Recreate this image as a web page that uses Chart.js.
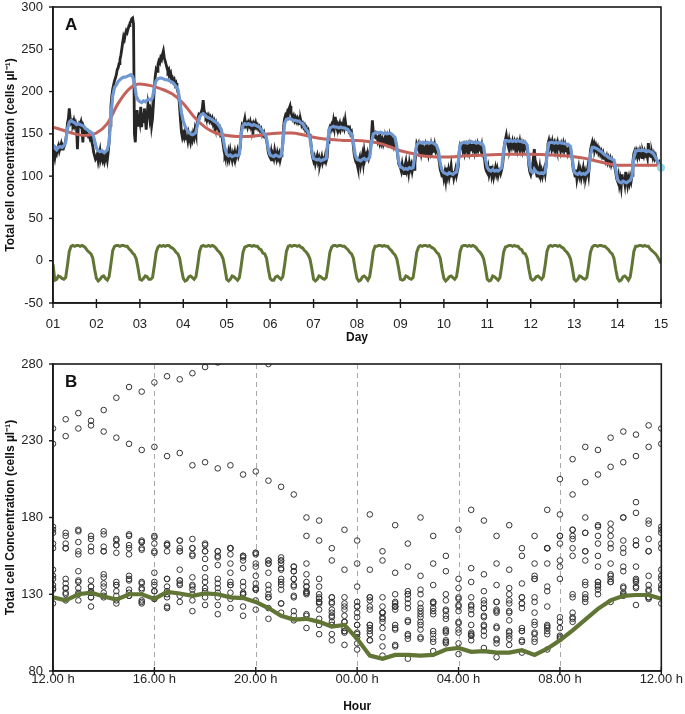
<!DOCTYPE html>
<html><head><meta charset="utf-8">
<script src="https://cdn.jsdelivr.net/npm/chart.js@4.4.1/dist/chart.umd.min.js"></script>
<style>
html,body{margin:0;padding:0;background:#fff;width:685px;height:714px;overflow:hidden;}
#wrapA{position:absolute;left:0;top:0;width:685px;height:345px;}
#wrapB{position:absolute;left:0;top:345px;width:685px;height:369px;}
canvas{display:block;}
</style></head><body>
<div id="wrapA"><canvas id="cA" width="685" height="345"></canvas></div>
<div id="wrapB"><canvas id="cB" width="685" height="369"></canvas></div>
<script>
// ---------- Panel A data ----------
const dayLabels = ['01','02','03','04','05','06','07','08','09','10','11','12','13','14','15'];
// total cell concentration, every 30 min from day 01 00:00 to day 15 00:00
const totalCells = [
135,128,122,130,127,133,136,130,134,138,132,136,134,137,142,150,163,168,180,168,163,165,162,166,160,163,158,132,158,162,160,164,158,140,158,155,153,149,150,147,148,144,146,140,135,128,124,120,
122,126,118,124,130,121,125,119,123,117,121,125,119,128,140,160,182,195,203,208,213,216,220,226,228,233,238,243,250,258,265,262,268,272,270,274,278,281,283,286,287,280,150,140,168,178,160,172,
165,182,158,175,163,180,168,155,172,185,178,168,175,160,168,185,205,218,226,224,232,236,234,240,238,244,248,240,236,232,228,224,226,220,222,214,216,212,214,208,210,204,200,195,180,165,152,146,
150,146,152,144,148,142,150,145,140,147,143,150,146,155,150,160,168,172,170,174,176,180,190,178,174,170,172,168,171,166,169,165,168,162,165,160,163,158,160,155,157,150,152,145,138,130,125,128,
125,120,128,122,130,124,119,126,122,128,121,125,130,124,128,135,152,160,158,163,168,160,162,158,163,160,164,158,161,157,162,159,163,158,160,156,158,154,156,152,150,152,147,148,143,135,128,124,
122,128,118,125,121,130,124,120,127,122,126,119,124,128,140,160,168,172,170,175,172,180,183,176,172,168,171,166,169,165,168,164,167,162,165,160,162,158,160,155,157,152,154,148,150,140,128,122,
118,122,115,120,124,117,121,114,119,123,116,120,118,124,118,122,140,155,158,155,160,157,165,158,170,160,156,161,158,162,156,160,157,163,158,166,158,155,160,154,156,150,152,145,135,125,120,116,
115,110,118,122,113,119,125,116,128,120,124,118,126,121,125,132,148,166,152,148,150,145,148,142,146,140,145,139,143,138,142,137,144,140,146,141,147,140,144,138,142,136,140,136,132,124,115,112,
110,106,114,108,103,112,117,107,111,104,115,109,113,106,112,108,115,128,138,135,138,130,134,127,133,126,131,128,135,129,133,126,132,128,136,130,134,128,136,130,133,128,124,116,108,104,100,106,
98,104,96,110,101,107,99,105,112,100,106,98,103,108,101,106,112,130,136,133,138,131,135,128,134,137,130,135,129,136,131,138,132,135,129,136,132,137,131,135,133,130,136,128,130,120,110,106,
104,110,102,107,112,101,106,99,105,110,103,108,101,106,110,104,108,114,125,138,143,148,140,136,142,134,139,135,141,136,140,133,138,132,139,135,141,134,138,131,137,133,138,135,131,125,112,105,
102,108,112,122,132,115,104,100,107,103,110,101,106,100,105,109,103,112,128,138,142,135,139,133,140,134,138,131,137,132,139,134,136,130,137,133,138,131,136,130,134,128,133,129,131,127,118,108,
105,100,108,97,104,110,101,106,98,103,109,100,105,99,104,110,102,115,130,136,140,134,138,132,136,131,134,128,131,126,129,124,127,121,125,119,123,117,121,116,120,114,118,113,116,110,104,97,
94,100,90,96,88,102,93,98,91,105,95,89,97,92,99,94,101,118,127,130,125,129,123,128,124,130,126,122,128,124,129,125,127,122,139,126,128,123,127,122,126,121,124,119,117,114,116,112,
110];
// smoothed concentration, hourly
const smoothedCells = [
137,133,131,134,135,134,136,140,156,164,166,164,163,161,162,161,160,159,156,155,153,152,150,142,
133,130,129,130,128,129,131,140,170,195,205,208,212,214,216,217,217,218,219,220,218,210,195,190,
188,187,189,188,190,191,190,193,205,213,215,216,216,215,214,214,213,212,211,209,206,203,190,175,
165,159,155,152,150,149,150,152,162,170,173,174,172,170,169,168,167,165,164,162,159,155,145,133,
126,124,125,123,124,125,124,126,150,160,162,161,162,161,160,161,160,159,158,155,152,150,145,132,
125,124,123,125,124,123,124,138,162,167,168,168,167,166,166,165,165,163,162,158,155,152,145,130,
121,120,119,120,118,119,120,121,145,157,158,159,158,158,157,158,157,157,156,155,152,150,140,125,
120,119,118,120,121,119,120,122,140,150,151,152,151,152,151,150,151,150,151,150,148,146,135,118,
111,110,108,109,108,110,109,110,125,137,139,140,139,140,139,140,139,140,139,138,136,130,115,107,
104,103,102,104,103,102,104,105,118,137,139,140,140,139,140,141,140,140,139,140,139,139,135,120,
110,107,106,108,106,107,106,108,110,130,142,142,141,142,141,142,141,142,141,141,140,140,137,118,
106,104,108,105,104,103,104,103,105,125,139,140,140,139,140,139,140,139,139,138,138,137,135,120,
105,103,102,104,102,103,102,104,106,125,134,134,133,132,130,129,127,125,124,122,121,120,119,108,
96,93,92,94,93,92,94,95,100,122,130,130,131,130,131,130,129,130,129,128,126,122,118,114,
112];
// long-term trend, every 6 h
const trendCells = [158,154,150,148,151,162,186,203,209,207,203,197,186,170,158,151,148,147,147,148,150,151,151,149,146,144,143,142,142,141,139,135,130,127,124,123,122.5,123,124,124.5,125,125.5,126,126,126,125.5,125,124,123,121,118,115,113,113,113,113,113];
// daily (circadian) component, hourly
const dailyComponent = [
-4,-23,-22,-18,-19,-21,-22,-20,-5,11,17,18,17,18,18,17,18,17,15,12,10,8,3,-10,
-21,-24,-22,-19,-18,-21,-23,-19,-4,12,17,18,18,17,18,18,17,17,14,12,9,7,2,-9,
-22,-23,-21,-18,-19,-22,-22,-20,-6,10,16,18,17,18,17,18,18,16,15,13,10,8,3,-10,
-21,-24,-23,-19,-18,-20,-22,-19,-5,11,17,18,17,17,18,17,18,17,15,12,10,7,2,-9,
-22,-24,-22,-18,-19,-21,-23,-20,-6,10,16,17,18,18,17,18,17,17,14,13,9,8,3,-10,
-21,-23,-23,-19,-18,-20,-22,-19,-5,11,17,18,17,18,18,17,18,16,15,12,10,7,2,-9,
-22,-24,-22,-18,-19,-21,-22,-20,-6,10,16,18,18,17,18,18,17,17,15,13,10,8,3,-10,
-21,-24,-23,-19,-18,-20,-23,-19,-5,11,17,17,18,18,17,18,17,17,14,12,9,7,2,-9,
-22,-23,-22,-18,-19,-21,-22,-20,-6,10,16,18,17,18,18,17,18,16,15,13,10,8,3,-10,
-21,-24,-22,-19,-18,-20,-22,-19,-5,11,17,18,18,17,18,17,18,17,15,12,10,7,2,-9,
-22,-24,-23,-18,-19,-21,-23,-20,-6,10,16,17,18,18,17,18,17,17,14,13,9,8,3,-10,
-21,-23,-22,-19,-18,-20,-22,-19,-5,11,17,18,17,18,18,17,18,16,15,12,10,7,2,-9,
-22,-24,-22,-18,-19,-21,-22,-20,-6,10,16,18,18,17,18,18,17,17,15,13,10,8,3,-10,
-21,-24,-23,-19,-18,-20,-23,-19,-5,11,17,17,18,18,17,18,17,17,14,12,10,8,5,1,
-3];
const endMarker = [110];

// ---------- Panel B data ----------
const hourLabels = ['12.00 h','16.00 h','20.00 h','00.00 h','04.00 h','08.00 h','12.00 h'];
// typical daily profile, every 30 min starting 12.00 h
const dailyProfile = [128,126,130,131,128.5,126.5,130,130,127,131.5,130.5,129,130.5,130,128,127.5,125,121,116,113.5,114,112,109,110,101,90,88,90.5,90.5,90,90.5,94,95,92.5,93,92,92,93.5,90.5,94.5,100,106.5,113.5,120.5,126,129,129.5,129.5,127];

// ---------- build ----------
const FONT = "'Liberation Sans', Arial, Helvetica, sans-serif";
const ptsA = (arr, perDay) => arr.map((v, i) => ({x: 1 + i / perDay, y: v}));

// fold the 30-min series into 24 h windows that start at 12.00 h
const foldPts = [];
for (let k = 0; k <= 14; k++) {
  const start = -24 + 48 * k; // index of 12.00 h (30-min steps)
  for (let j = 0; j <= 48; j++) {
    const idx = start + j;
    if (idx >= 0 && idx < totalCells.length) foldPts.push({x: j / 2, y: totalCells[idx]});
  }
}

const framePlugin = {
  id: 'frame',
  beforeDatasetsDraw(chart, args, opts) {
    const {ctx, chartArea: a, scales} = chart;
    if (opts.vgrid) {
      ctx.save();
      ctx.strokeStyle = '#a8a8a8'; ctx.lineWidth = 1; ctx.setLineDash([5, 4]);
      opts.vgrid.forEach(v => {
        const x = Math.round(scales.x.getPixelForValue(v)) + 0.5;
        ctx.beginPath(); ctx.moveTo(x, a.top); ctx.lineTo(x, a.bottom); ctx.stroke();
      });
      ctx.restore();
    }
  },
  afterDraw(chart, args, opts) {
    const {ctx, chartArea: a, scales} = chart;
    ctx.save();
    ctx.strokeStyle = '#1a1a1a'; ctx.lineWidth = 1.6;
    ctx.strokeRect(a.left, a.top, a.right - a.left, a.bottom - a.top);
    ctx.lineWidth = 1.4;
    scales.x.ticks.forEach(t => {
      const x = scales.x.getPixelForValue(t.value);
      ctx.beginPath(); ctx.moveTo(x, a.bottom - opts.xIn); ctx.lineTo(x, a.bottom + opts.xOut); ctx.stroke();
    });
    scales.y.ticks.forEach(t => {
      const y = scales.y.getPixelForValue(t.value);
      ctx.beginPath(); ctx.moveTo(a.left - 4, y); ctx.lineTo(a.left, y); ctx.stroke();
    });
    ctx.fillStyle = '#111';
    ctx.font = 'bold 17px ' + FONT;
    ctx.textBaseline = 'alphabetic';
    ctx.fillText(opts.letter, a.left + 12, a.top + 23);
    ctx.restore();
  }
};

const tickFont = {family: FONT, size: 13, lineHeight: 1};
const titleFont = {family: FONT, size: 12, weight: 'bold'};
function fitY(s) { s.width = 53; s.paddingTop = 0; s.paddingBottom = 0; }

new Chart(document.getElementById('cA'), {
  type: 'line',
  data: {
    datasets: [
      {data: endMarker.map(v => ({x: 15, y: v})), showLine: false, pointRadius: 4, pointBackgroundColor: '#93d6e8', pointBorderWidth: 0, clip: 8},
      {data: ptsA(smoothedCells, 24), borderColor: '#7098d2', borderWidth: 3.2, pointRadius: 0, tension: 0},
      {data: ptsA(trendCells, 4), borderColor: '#c4625a', borderWidth: 3, pointRadius: 0, cubicInterpolationMode: 'monotone'},
      {data: ptsA(totalCells, 48), borderColor: '#262626', borderWidth: 2.8, pointRadius: 0, tension: 0},
      {data: ptsA(dailyComponent, 24), borderColor: '#617535', borderWidth: 3, pointRadius: 0, tension: 0}
    ]
  },
  options: {
    responsive: false, animation: false, events: [],
    layout: {padding: {top: 7, right: 24, left: 0, bottom: 0}},
    plugins: {legend: {display: false}, tooltip: {enabled: false},
      frame: {letter: 'A', xIn: 4, xOut: 5}},
    scales: {
      x: {type: 'linear', min: 1, max: 15,
        ticks: {stepSize: 1, autoSkip: false, maxRotation: 0, color: '#222', font: tickFont, padding: 15,
          callback: v => dayLabels[Math.round(v) - 1]},
        grid: {display: false, drawTicks: false},
        border: {display: true, color: '#1a1a1a', width: 1.6},
        title: {display: true, text: 'Day', color: '#111', font: titleFont, padding: {top: 0, bottom: 0}},
        afterFit(s) { s.height = 42; }},
      y: {min: -50, max: 300,
        ticks: {stepSize: 50, color: '#222', font: tickFont, padding: 10},
        grid: {display: false, drawTicks: false},
        border: {display: true, color: '#1a1a1a', width: 1.6},
        title: {display: true, text: 'Total cell concentration (cells µl⁻¹)', color: '#111', font: titleFont, padding: {top: 3, bottom: 0}},
        afterFit: fitY}
    }
  },
  plugins: [framePlugin]
});

new Chart(document.getElementById('cB'), {
  type: 'scatter',
  data: {
    datasets: [
      {data: dailyProfile.map((v, i) => ({x: i / 2, y: v})), showLine: true, borderColor: '#617535', borderWidth: 4.2, pointRadius: 0, tension: 0},
      {data: foldPts, showLine: false, pointRadius: 2.8, pointBorderWidth: 1, pointBorderColor: '#333', pointBackgroundColor: 'rgba(255,255,255,0)'}
    ]
  },
  options: {
    responsive: false, animation: false, events: [],
    layout: {padding: {top: 19, right: 22, left: 0, bottom: 0}},
    plugins: {legend: {display: false}, tooltip: {enabled: false},
      frame: {letter: 'B', xIn: 4, xOut: 4, vgrid: [4, 8, 12, 16, 20]}},
    scales: {
      x: {type: 'linear', min: 0, max: 24,
        ticks: {stepSize: 4, autoSkip: false, maxRotation: 0, color: '#222', font: tickFont, padding: 2,
          callback: v => hourLabels[Math.round(v / 4)]},
        grid: {display: false, drawTicks: false},
        border: {display: true, color: '#1a1a1a', width: 1.6},
        title: {display: true, text: 'Hour', color: '#111', font: titleFont, padding: {top: 0, bottom: 0}},
        afterFit(s) { s.height = 43; }},
      y: {min: 80, max: 280,
        ticks: {stepSize: 50, color: '#222', font: tickFont, padding: 10},
        grid: {display: false, drawTicks: false},
        border: {display: true, color: '#1a1a1a', width: 1.6},
        title: {display: true, text: 'Total cell Concentration (cells µl⁻¹)', color: '#111', font: titleFont, padding: {top: 3, bottom: 0}},
        afterFit: fitY}
    }
  },
  plugins: [framePlugin]
});
</script>
</body></html>
